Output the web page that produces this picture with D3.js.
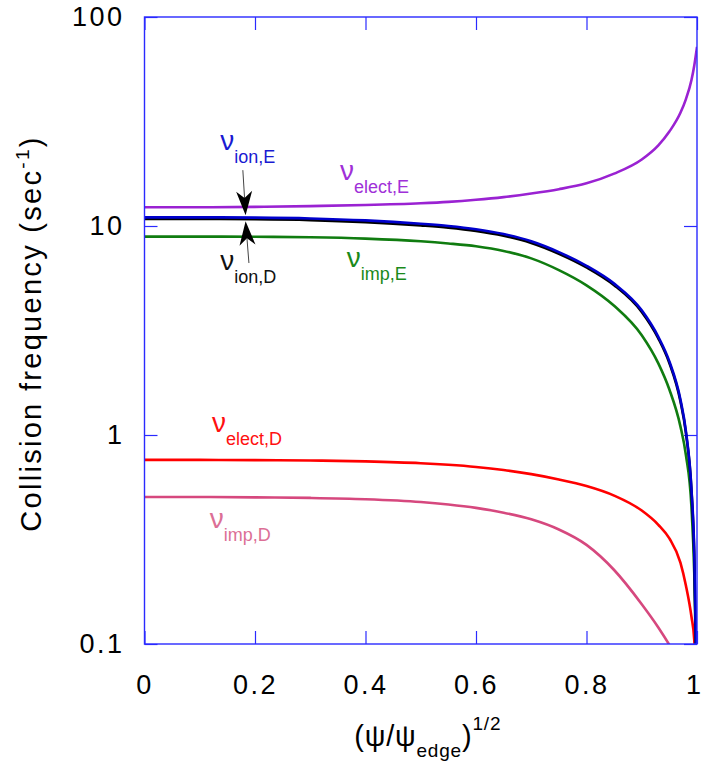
<!DOCTYPE html>
<html>
<head>
<meta charset="utf-8">
<script src="https://cdn.jsdelivr.net/npm/d3@7"></script>
<style>
  html, body { margin: 0; padding: 0; background: #fff; }
  svg { display: block; }
  text { font-family: "Liberation Sans", Arial, sans-serif; }
</style>
</head>
<body>
<svg id="chart" width="701" height="765"></svg>
<script>
// Normalised radius (psi/psi_edge)^(1/2)
const rho = [0, 0.1, 0.2, 0.3, 0.4, 0.5, 0.55, 0.6, 0.65, 0.7, 0.75, 0.8, 0.85, 0.9, 0.93, 0.95, 0.97, 0.98, 0.99, 0.995, 1.0];

// Collision frequencies (1/s)
const nuElectE = [12.3, 12.3, 12.35, 12.45, 12.6, 12.85, 13.05, 13.35, 13.75, 14.3, 15.0, 16.0, 17.8, 20.8, 24.3, 28.3, 34.8, 40.5, 50.0, 58.5, 72.0];
const nuIonE   = [11.0, 11.0, 10.97, 10.87, 10.64, 10.25, 10.0, 9.65, 9.15, 8.45, 7.5, 6.45, 5.3, 3.95, 2.95, 2.25, 1.48, 1.04, 0.55, 0.28, 0.05];
const nuIonD   = [10.8, 10.8, 10.77, 10.67, 10.44, 10.06, 9.82, 9.48, 8.99, 8.3, 7.37, 6.34, 5.21, 3.88, 2.9, 2.21, 1.45, 1.02, 0.54, 0.27, 0.05];
const nuImpE   = [8.9, 8.9, 8.88, 8.83, 8.7, 8.45, 8.25, 8.0, 7.6, 7.0, 6.15, 5.2, 4.15, 3.0, 2.2, 1.65, 1.1, 0.8, 0.45, 0.22, 0.05];
const nuElectD = [0.76, 0.76, 0.758, 0.755, 0.748, 0.733, 0.72, 0.703, 0.68, 0.65, 0.613, 0.57, 0.513, 0.435, 0.372, 0.32, 0.245, 0.19, 0.135, 0.105, 0.05];
const nuImpD   = [0.505, 0.505, 0.503, 0.5, 0.493, 0.478, 0.465, 0.448, 0.425, 0.395, 0.353, 0.298, 0.226, 0.155, 0.12, 0.099, 0.08, 0.072, 0.065, 0.062, 0.058];

// Tick values and their labels
const xTicks = [0, 0.2, 0.4, 0.6, 0.8, 1];
const xTickLabels = ["0", "0.2", "0.4", "0.6", "0.8", "1"];
const yTicks = [0.1, 1, 10, 100];
const yTickLabels = ["0.1", "1", "10", "100"];

const seriesList = [
  { key: "nuElectE", values: nuElectE, color: "#9a22d2" },
  { key: "nuImpD",   values: nuImpD,   color: "#d6487e" },
  { key: "nuElectD", values: nuElectD, color: "#ff0000" },
  { key: "nuImpE",   values: nuImpE,   color: "#107c10" },
  { key: "nuIonD",   values: nuIonD,   color: "#000000" },
  { key: "nuIonE",   values: nuIonE,   color: "#0000cc" }
];

// Curve labels: nu with a subscript, anchored in data coordinates
const curveLabels = [
  { sub: "ion,E",   x: 0.137, y: 23.1, color: "#1a1ad2" },
  { sub: "elect,E", x: 0.354, y: 16.6, color: "#a030d8" },
  { sub: "ion,D",   x: 0.137, y: 6.15, color: "#111111" },
  { sub: "imp,E",   x: 0.366, y: 6.37, color: "#1a8a1a" },
  { sub: "elect,D", x: 0.122, y: 1.03, color: "#ff1010" },
  { sub: "imp,D",   x: 0.118, y: 0.359, color: "#dc6f96" }
];

// Arrows from the ion labels to the ion curves (data coordinates)
const arrows = [
  { from: [0.178, 18.5], to: [0.183, 11.25] },
  { from: [0.189, 6.65], to: [0.183, 10.55] }
];

const margin = { left: 144.5, top: 17, right: 4, bottom: 121 };
const svg = d3.select("#chart");
const W = 701 - margin.left - margin.right;
const H = 765 - margin.top - margin.bottom;

const x = d3.scaleLinear().domain([0, 1]).range([0, W]);
const y = d3.scaleLog().domain([0.1, 100]).range([H, 0]);

const g = svg.append("g").attr("transform", `translate(${margin.left},${margin.top})`);

g.append("clipPath").attr("id", "plotClip")
  .append("rect").attr("x", 0).attr("y", 0).attr("width", W).attr("height", H);

const frameColor = "#2a2aff";
const tickLen = 13;

// Axes: inward ticks on all four sides
const xAxisB = d3.axisBottom(x).tickValues(xTicks)
  .tickFormat((d, i) => xTickLabels[i]).tickSizeInner(-tickLen).tickSizeOuter(0).tickPadding(31);
const xAxisT = d3.axisTop(x).tickValues(xTicks).tickFormat("").tickSizeInner(-tickLen).tickSizeOuter(0);
const yAxisL = d3.axisLeft(y).tickValues(yTicks)
  .tickFormat((d, i) => yTickLabels[i]).tickSizeInner(-tickLen).tickSizeOuter(0).tickPadding(20);
const yAxisR = d3.axisRight(y).tickValues(yTicks).tickFormat("").tickSizeInner(-tickLen).tickSizeOuter(0);

function styleAxis(sel) {
  sel.select(".domain").remove();
  sel.selectAll(".tick line").attr("stroke", frameColor).attr("stroke-width", 1.2);
  sel.selectAll(".tick text").attr("fill", "#000")
    .style("font-size", "27px").style("letter-spacing", "2.5px")
    .style("font-family", "'Liberation Sans', Arial, sans-serif");
}

const xAxisG = g.append("g").attr("transform", `translate(0,${H})`).call(xAxisB).call(styleAxis);
// keep the single-digit label at the right end inside the page
xAxisG.selectAll(".tick text").filter(d => d === 1)
  .style("letter-spacing", "0px").attr("dx", -4);
g.append("g").call(xAxisT).call(styleAxis);
g.append("g").call(yAxisL).call(styleAxis);
g.append("g").attr("transform", `translate(${W},0)`).call(yAxisR).call(styleAxis);

// Curves
const line = d3.line()
  .x(d => x(d[0]))
  .y(d => y(d[1]))
  .curve(d3.curveMonotoneX);

const curves = g.append("g").attr("clip-path", "url(#plotClip)");
seriesList.forEach(s => {
  curves.append("path")
    .datum(rho.map((r, i) => [r, s.values[i]]))
    .attr("fill", "none")
    .attr("stroke", s.color)
    .attr("stroke-width", 2.6)
    .attr("stroke-linejoin", "round")
    .attr("d", line);
});

// Frame
g.append("rect").attr("x", 0).attr("y", 0).attr("width", W).attr("height", H)
  .attr("fill", "none").attr("stroke", frameColor).attr("stroke-width", 1.4);

// Arrows
arrows.forEach(a => {
  const tx = x(a.from[0]), ty = y(a.from[1]);
  const px = x(a.to[0]), py = y(a.to[1]);
  const len = Math.hypot(px - tx, py - ty);
  const ux = (px - tx) / len, uy = (py - ty) / len;
  const nx = -uy, ny = ux;
  const L = 24, w = 8, notch = 0.72;
  g.append("line")
    .attr("x1", tx).attr("y1", ty)
    .attr("x2", px - ux * L * notch).attr("y2", py - uy * L * notch)
    .attr("stroke", "#444").attr("stroke-width", 1);
  const pts = [
    [px, py],
    [px - ux * L + nx * w, py - uy * L + ny * w],
    [px - ux * L * notch, py - uy * L * notch],
    [px - ux * L - nx * w, py - uy * L - ny * w]
  ];
  g.append("path").attr("d", "M" + pts.map(p => p.join(",")).join("L") + "Z").attr("fill", "#000");
});

// Curve labels
curveLabels.forEach(l => {
  const t = g.append("text")
    .attr("x", x(l.x)).attr("y", y(l.y))
    .attr("fill", l.color)
    .style("font-size", "28px");
  t.append("tspan").text("ν");
  t.append("tspan").attr("dy", 13).style("font-size", "18px").text(l.sub);
});

// Axis titles
svg.append("text")
  .attr("transform", `translate(41,${margin.top + H / 2 + 3}) rotate(-90)`)
  .attr("text-anchor", "middle")
  .style("font-size", "29px")
  .style("letter-spacing", "2.3px")
  .call(t => {
    t.append("tspan").text("Collision frequency (sec");
    t.append("tspan").attr("dy", -12).style("font-size", "19px").text("-1");
    t.append("tspan").attr("dy", 12).text(")");
  });

svg.append("text")
  .attr("x", margin.left + W / 2 + 7).attr("y", 746)
  .attr("text-anchor", "middle")
  .style("font-size", "29px")
  .style("letter-spacing", "0.8px")
  .call(t => {
    t.append("tspan").text("(ψ/ψ");
    t.append("tspan").attr("dy", 11).style("font-size", "19px").text("edge");
    t.append("tspan").attr("dy", -11).text(")");
    t.append("tspan").attr("dy", -16).style("font-size", "19px").text("1/2");
  });
</script>
</body>
</html>
